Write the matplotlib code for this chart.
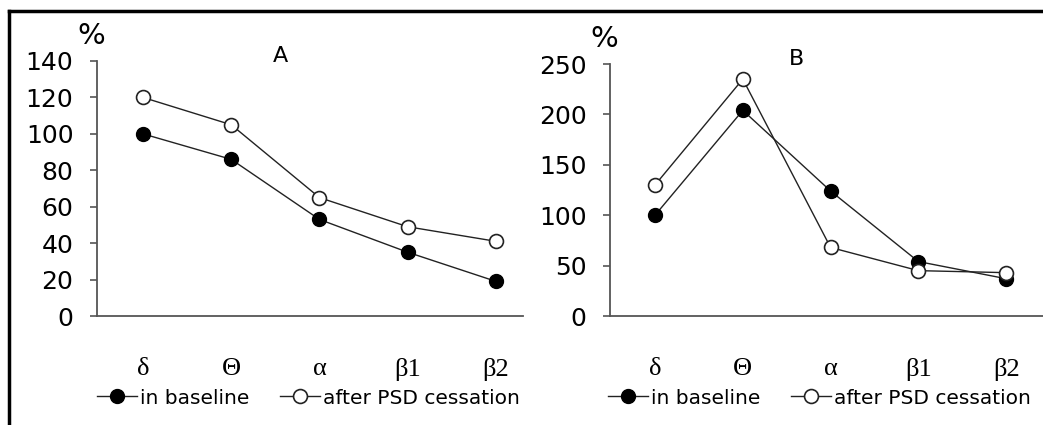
import matplotlib.pyplot as plt
from matplotlib.lines import Line2D

bands = ["δ", "Θ", "α", "β1", "β2"]

# panel A
a_baseline = [100, 86, 53, 35, 19]
a_after = [120, 105, 65, 49, 41]

# panel B
b_baseline = [100, 204, 124, 54, 37]
b_after = [130, 235, 68, 45, 43]

W, H = 1043, 425


def draw_panel(ax, baseline, after, ymax, step, xlim, letter):
    x = list(range(len(bands)))
    ax.plot(x, baseline, color="#222222", lw=1.0, marker="o", ms=10,
            mfc="black", mec="black", label="in baseline")
    ax.plot(x, after, color="#222222", lw=1.0, marker="o", ms=10,
            mfc="white", mec="#222222", mew=1.2, label="after PSD cessation")

    ax.set_ylim(0, ymax)
    ax.set_xlim(*xlim)
    ax.set_yticks(range(0, ymax + 1, step))
    ax.set_xticks(x)
    ax.set_xticklabels(bands, family="Liberation Serif", fontsize=19)

    for side in ("top", "right"):
        ax.spines[side].set_visible(False)
    for side in ("left", "bottom"):
        ax.spines[side].set_color("#555555")
        ax.spines[side].set_linewidth(1.3)

    ax.tick_params(axis="y", direction="out", length=5, width=1.2,
                   color="#555555", pad=12, labelsize=18)
    ax.tick_params(axis="x", length=0, pad=30)

    ax.text(-0.013, 1.10, "%", transform=ax.transAxes, fontsize=21,
            ha="center", va="center")
    ax.text(0.43, 1.02, letter, transform=ax.transAxes, fontsize=16,
            ha="center", va="center")


plt.rcParams["font.family"] = ["DejaVu Sans"]
fig = plt.figure(figsize=(W / 100, H / 100), dpi=100)

ax_a = fig.add_axes([97 / W, 1 - 316 / H, 426 / W, (316 - 61) / H])
ax_b = fig.add_axes([610 / W, 1 - 316 / H, (W - 610) / W, (316 - 64) / H])

draw_panel(ax_a, a_baseline, a_after, 140, 20, (-0.521, 4.306), "A")
draw_panel(ax_b, b_baseline, b_after, 250, 50, (-0.513, 4.42), "B")

for ax, x0 in ((ax_a, 97), (ax_b, 608)):
    fig.legend(*ax.get_legend_handles_labels(), loc="center left",
               bbox_to_anchor=(x0 / W, 1 - 398 / H), ncol=2, frameon=False,
               fontsize=14.5, handlelength=2.0, handletextpad=0.15,
               columnspacing=1.5, borderpad=0, borderaxespad=0)

# black frame on the top and left edges
fig.add_artist(Line2D([8.5 / W, 1], [1 - 11 / H, 1 - 11 / H], color="black",
                      lw=2.5, transform=fig.transFigure))
fig.add_artist(Line2D([8.5 / W, 8.5 / W], [0, 1 - 11 / H], color="black",
                      lw=2.5, transform=fig.transFigure))

fig.savefig("out.png", dpi=100)
